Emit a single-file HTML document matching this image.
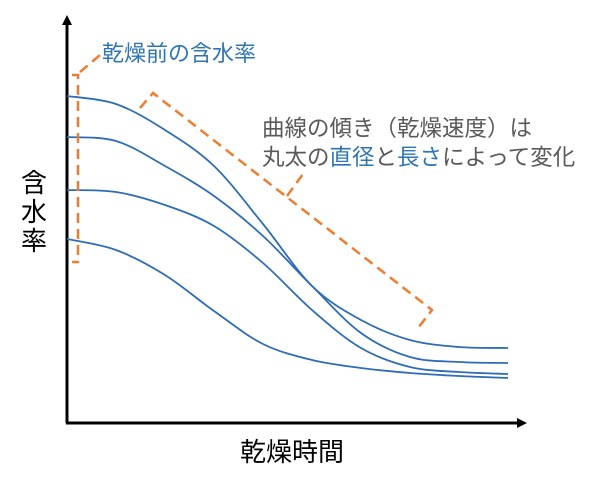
<!DOCTYPE html>
<html><head><meta charset="utf-8"><style>
html,body{margin:0;padding:0;background:#fff;}
svg{display:block;font-family:"Liberation Sans","Noto Sans CJK JP",sans-serif;}
</style></head><body>
<svg id="c" width="600" height="485" viewBox="0 0 600 485">
<defs>
<marker id="ah" markerWidth="10" markerHeight="10" refX="5" refY="5" orient="auto" markerUnits="userSpaceOnUse"><path d="M0,0 L10,5 L0,10 z" fill="#000"/></marker>
</defs>
<line x1="67" y1="423" x2="67" y2="20" stroke="#000" stroke-width="3" marker-end="url(#ah)"/>
<line x1="66" y1="423" x2="522" y2="423" stroke="#000" stroke-width="3" marker-end="url(#ah)"/>
<g id="curves"></g>
<g fill="none" stroke="#ed7d31" stroke-width="2.5" stroke-dasharray="10,6">
<path d="M72,75 L78,75 L78,262 L72,262"/>
<path d="M80,72 L100,55"/>
<path d="M140,108 L153,93 L432,310 L418,328"/>
<path d="M287,196 L303,174"/>
</g>
<text x="102" y="61" font-size="22" fill="#2e75b6">乾燥前の含水率</text>
<text x="262" y="136" font-size="22.5" fill="#595959">曲線の傾き（乾燥速度）は</text>
<text x="262" y="165" font-size="22.5" fill="#595959">丸太の<tspan fill="#2e75b6">直径</tspan>と<tspan fill="#2e75b6">長さ</tspan>によって変化</text>
<text font-size="26" fill="#000"><tspan x="21" y="192">含</tspan><tspan x="21" y="221">水</tspan><tspan x="21" y="250">率</tspan></text>
<text x="240" y="461" font-size="26" fill="#000">乾燥時間</text>
</svg>
<script>
const times = [0,1,2,3,4,5,6,7,8,9];
const curve1 = [327,319,293,257,199,137,103,83,76,75];
const curve2 = [286,282,257,227,187,137,90,66,61,60];
const curve3 = [233,231,218,197,160,113,75,56,51,49];
const curve4 = [184,173,148,112,79,63,55,50,47,45];
const series = [curve1,curve2,curve3,curve4];
function xs(t){return 67+49*t;}
function ys(v){return 423-v;}
function smooth(pts){
  let d='M'+pts[0][0]+','+pts[0][1];
  for(let i=0;i<pts.length-1;i++){
    const p0=pts[Math.max(i-1,0)],p1=pts[i],p2=pts[i+1],p3=pts[Math.min(i+2,pts.length-1)];
    const c1=[p1[0]+(p2[0]-p0[0])/6,p1[1]+(p2[1]-p0[1])/6];
    const c2=[p2[0]-(p3[0]-p1[0])/6,p2[1]-(p3[1]-p1[1])/6];
    d+=' C'+c1[0]+','+c1[1]+' '+c2[0]+','+c2[1]+' '+p2[0]+','+p2[1];
  }
  return d;
}
const g=document.getElementById('curves');
series.forEach((s,k)=>{
  const p=document.createElementNS('http://www.w3.org/2000/svg','path');
  p.setAttribute('d',smooth(times.map((t,i)=>[xs(t),ys(s[i])])));
  p.setAttribute('fill','none');
  p.setAttribute('stroke','#2e6db4');
  p.setAttribute('stroke-width','1.8');
  
  
  g.appendChild(p);
});
</script>
</body></html>
